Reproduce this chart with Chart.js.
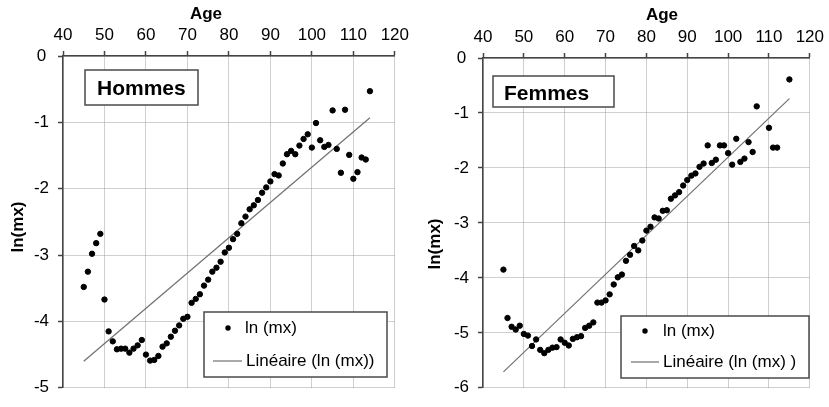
<!DOCTYPE html>
<html>
<head>
<meta charset="utf-8">
<script src="https://cdn.jsdelivr.net/npm/chart.js@4/dist/chart.umd.min.js"></script>
<style>
  body { margin: 0; background: #fff; }
  .panel { position: absolute; top: 0; }
</style>
</head>
<body>
<canvas id="hommes" class="panel" width="414" height="407" style="left:0"></canvas>
<canvas id="femmes" class="panel" width="415" height="407" style="left:414px"></canvas>
<script>
// log death rates by age
const hommesAges = [45, 46, 47, 48, 49, 50, 51, 52, 53, 54, 55, 56, 57, 58, 59,
  60, 61, 62, 63, 64, 65, 66, 67, 68, 69, 70, 71, 72, 73, 74, 75, 76, 77, 78, 79,
  80, 81, 82, 83, 84, 85, 86, 87, 88, 89, 90, 91, 92, 93, 94, 95, 96, 97, 98, 99,
  100, 101, 102, 103, 104, 105, 106, 107, 108, 109, 110, 111, 112, 113, 114];
const hommesLn = [-3.48, -3.25, -2.98, -2.82, -2.68, -3.67, -4.15, -4.30, -4.42, -4.41,
  -4.41, -4.47, -4.41, -4.36, -4.28, -4.50, -4.59, -4.58, -4.52, -4.38,
  -4.33, -4.23, -4.14, -4.06, -3.96, -3.93, -3.72, -3.66, -3.59, -3.46,
  -3.37, -3.25, -3.19, -3.10, -2.96, -2.89, -2.76, -2.68, -2.52, -2.42,
  -2.31, -2.25, -2.17, -2.06, -1.98, -1.89, -1.78, -1.80, -1.62, -1.48,
  -1.43, -1.48, -1.35, -1.25, -1.18, -1.38, -1.01, -1.27, -1.37, -1.34,
  -0.82, -1.40, -1.76, -0.81, -1.49, -1.85, -1.75, -1.53, -1.56, -0.53];
const hommesTrendAges = [45, 114];
const hommesTrendLn = [-4.60, -0.93];

const femmesAges = [45, 46, 47, 48, 49, 50, 51, 52, 53, 54, 55, 56, 57, 58, 59,
  60, 61, 62, 63, 64, 65, 66, 67, 68, 69, 70, 71, 72, 73, 74, 75, 76, 77, 78, 79,
  80, 81, 82, 83, 84, 85, 86, 87, 88, 89, 90, 91, 92, 93, 94, 95, 96, 97, 98, 99,
  100, 101, 102, 103, 104, 105, 106, 107, 110, 111, 112, 115];
const femmesLn = [-3.85, -4.73, -4.89, -4.94, -4.87, -5.02, -5.05, -5.24, -5.12, -5.31,
  -5.37, -5.31, -5.27, -5.26, -5.12, -5.18, -5.23, -5.11, -5.08, -5.06,
  -4.91, -4.87, -4.81, -4.45, -4.45, -4.41, -4.30, -4.12, -3.99, -3.94,
  -3.69, -3.58, -3.42, -3.50, -3.32, -3.14, -3.07, -2.90, -2.92, -2.78,
  -2.77, -2.56, -2.50, -2.44, -2.32, -2.22, -2.14, -2.10, -1.98, -1.92,
  -1.59, -1.91, -1.85, -1.59, -1.59, -1.73, -1.94, -1.47, -1.89, -1.83,
  -1.53, -1.71, -0.88, -1.27, -1.63, -1.63, -0.39];
const femmesTrendAges = [45, 115];
const femmesTrendLn = [-5.71, -0.74];

const FONT = "'Liberation Sans', Arial, sans-serif";
Chart.defaults.font.family = FONT;
Chart.defaults.color = "#000";

const toPoints = (xs, ys) => xs.map((x, i) => ({ x, y: ys[i] }));

// name box, legend box and axis titles
const panelDecor = {
  id: "panelDecor",
  afterDraw(chart, args, o) {
    const ctx = chart.ctx;
    ctx.save();
    ctx.fillStyle = "#000";
    ctx.font = `bold 17px ${FONT}`;
    ctx.textAlign = "center";
    ctx.textBaseline = "alphabetic";
    ctx.fillText("Age", o.ageX, o.ageY);

    ctx.save();
    ctx.translate(o.yTitleX, o.yTitleY);
    ctx.rotate(-Math.PI / 2);
    ctx.textBaseline = "middle";
    ctx.fillText("ln(mx)", 0, 0);
    ctx.restore();

    // sex label
    const n = o.nameBox;
    ctx.fillStyle = "#fff";
    ctx.fillRect(n.x, n.y, n.w, n.h);
    ctx.strokeStyle = "#4a4a4a";
    ctx.lineWidth = 1.5;
    ctx.strokeRect(n.x, n.y, n.w, n.h);
    ctx.fillStyle = "#000";
    ctx.font = `bold 21px ${FONT}`;
    ctx.textAlign = "left";
    ctx.fillText(o.name, n.textX, n.textY);

    // legend
    const l = o.legend;
    ctx.fillStyle = "#fff";
    ctx.fillRect(l.x, l.y, l.w, l.h);
    ctx.strokeRect(l.x, l.y, l.w, l.h);
    ctx.fillStyle = "#000";
    ctx.beginPath();
    ctx.arc(l.dotX, l.row1, 2.7, 0, Math.PI * 2);
    ctx.fill();
    ctx.strokeStyle = "#707070";
    ctx.lineWidth = 1.2;
    ctx.beginPath();
    ctx.moveTo(l.lineX1, l.row2);
    ctx.lineTo(l.lineX2, l.row2);
    ctx.stroke();
    ctx.font = `17px ${FONT}`;
    ctx.textBaseline = "middle";
    ctx.fillText("ln (mx)", l.text1X, l.row1);
    ctx.fillText(o.trendLabel, l.text2X, l.row2);
    ctx.restore();
  },
};

const makePanel = (id, ages, values, trendAges, trendValues, yMin, box, decor) => {
  const ctx = document.getElementById(id).getContext("2d");
  return new Chart(ctx, {
    type: "scatter",
    data: {
      datasets: [
        {
          label: "ln (mx)",
          data: toPoints(ages, values),
          backgroundColor: "#000",
          borderColor: "#000",
          pointRadius: 2.7,
          pointHoverRadius: 2.7,
        },
        {
          label: decor.trendLabel,
          data: toPoints(trendAges, trendValues),
          showLine: true,
          borderColor: "#707070",
          borderWidth: 1.2,
          pointRadius: 0,
        },
      ],
    },
    options: {
      responsive: false,
      animation: false,
      events: [],
      layout: { padding: { left: 0, top: 0, right: box.right, bottom: box.bottom } },
      plugins: {
        legend: { display: false },
        tooltip: { enabled: false },
        panelDecor: decor,
      },
      scales: {
        x: {
          type: "linear",
          position: "top",
          min: 40,
          max: 120,
          afterFit: (s) => { s.height = box.top; },
          ticks: { stepSize: 10, padding: 5, font: { size: 17 }, color: "#000" },
          grid: { color: "#a0a0a0", tickLength: 5, tickColor: "#444", tickWidth: 1.5 },
          border: { color: "#444", width: 1.5, dash: [1, 1] },
        },
        y: {
          type: "linear",
          min: yMin,
          max: 0,
          afterFit: (s) => { s.width = box.left; },
          ticks: { stepSize: 1, padding: 9, crossAlign: "center", font: { size: 17 }, color: "#000" },
          grid: { color: "#a0a0a0", tickLength: 5, tickColor: "#444", tickWidth: 1.5 },
          border: { color: "#444", width: 1.5, dash: [1, 1] },
        },
      },
    },
    plugins: [panelDecor],
  });
};

makePanel("hommes", hommesAges, hommesLn, hommesTrendAges, hommesTrendLn, -5,
  { left: 63, top: 56, right: 19, bottom: 11 },
  {
    name: "Hommes",
    trendLabel: "Linéaire (ln (mx))",
    ageX: 206, ageY: 19,
    yTitleX: 18, yTitleY: 227,
    nameBox: { x: 85, y: 70, w: 113, h: 35, textX: 97, textY: 95 },
    legend: { x: 204, y: 312, w: 183, h: 65, dotX: 228, row1: 328, lineX1: 213, lineX2: 242, row2: 361, text1X: 245, text2X: 246 },
  });

makePanel("femmes", femmesAges, femmesLn, femmesTrendAges, femmesTrendLn, -6,
  { left: 69, top: 58, right: 16, bottom: 16 },
  {
    name: "Femmes",
    trendLabel: "Linéaire (ln (mx) )",
    ageX: 248, ageY: 20,
    yTitleX: 21, yTitleY: 244,
    nameBox: { x: 79, y: 76, w: 121, h: 31, textX: 90, textY: 100 },
    legend: { x: 207, y: 316, w: 188, h: 62, dotX: 231, row1: 331, lineX1: 217, lineX2: 245, row2: 362, text1X: 249, text2X: 249 },
  });
</script>
</body>
</html>
